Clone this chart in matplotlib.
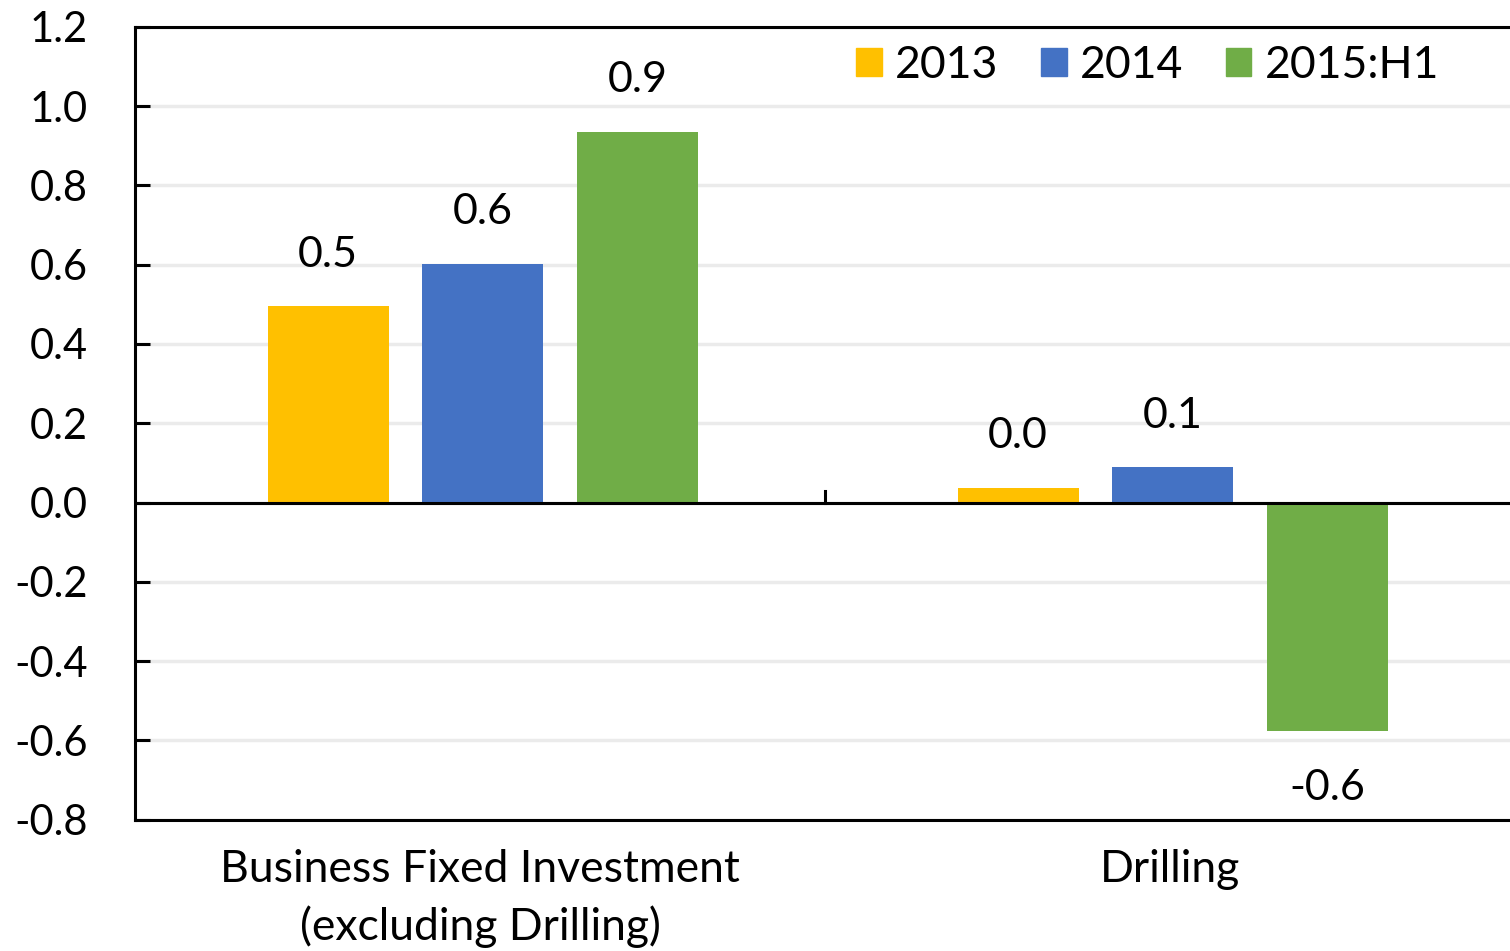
import matplotlib
matplotlib.use('Agg')
import numpy as np
import matplotlib.pyplot as plt
from matplotlib.patches import Patch

plt.rcParams['font.family'] = ['Lato', 'DejaVu Sans']

# data
categories = ['Business Fixed Investment\n(excluding Drilling)', 'Drilling']
series = ['2013', '2014', '2015:H1']
vals_2013 = [0.495, 0.038]
vals_2014 = [0.603, 0.09]
vals_2015 = [0.935, -0.575]
labels_2013 = ['0.5', '0.0']
labels_2014 = ['0.6', '0.1']
labels_2015 = ['0.9', '-0.6']
yticks = [-0.8, -0.6, -0.4, -0.2, 0.0, 0.2, 0.4, 0.6, 0.8, 1.0, 1.2]
ytick_labels = ['-0.8', '-0.6', '-0.4', '-0.2', '0.0', '0.2', '0.4', '0.6', '0.8', '1.0', '1.2']

colors = ['#FFC000', '#4472C4', '#70AD47']
offsets = [-0.22, 0.004, 0.228]
width = 0.175

fig = plt.figure(figsize=(15.1, 9.51), dpi=100)
ax = fig.add_axes([0.0894, 0.138, 0.9139, 0.8338])

x = np.arange(len(categories))
all_vals = [vals_2013, vals_2014, vals_2015]
all_labels = [labels_2013, labels_2014, labels_2015]
for vals, labs, off, c, name in zip(all_vals, all_labels, offsets, colors, series):
    bars = ax.bar(x + off, vals, width, color=c, label=name, zorder=3)
    for b, v, lab in zip(bars, vals, labs):
        if v >= 0:
            ax.annotate(lab, (b.get_x() + b.get_width() / 2, v), xytext=(0, 37),
                        textcoords='offset points', ha='center', va='center', fontsize=31)
        else:
            ax.annotate(lab, (b.get_x() + b.get_width() / 2, v), xytext=(0, -41),
                        textcoords='offset points', ha='center', va='center', fontsize=31)

# zero line with the category divider tick
ax.axhline(0, color='black', lw=2.2, zorder=4)
ax.plot([0.5, 0.5], [0, 0.03], color='black', lw=2.2, zorder=4)

ax.set_xlim(-0.5, 1.5)
ax.set_ylim(-0.8, 1.2)
ax.set_yticks(yticks)
ax.set_yticklabels(ytick_labels)
ax.yaxis.grid(True, color='#ebebeb', lw=2.5, zorder=0)
ax.tick_params(axis='y', direction='in', length=11, width=2.2, pad=34, labelsize=30)
ax.set_xticks(x)
ax.set_xticklabels(categories, fontsize=32, linespacing=1.45)
ax.tick_params(axis='x', length=0, pad=21)

for s in ['left', 'top', 'bottom']:
    ax.spines[s].set_linewidth(2.2)
ax.spines['right'].set_visible(False)

handles = [Patch(color=c) for c in colors]
ax.legend(handles, series, loc='upper right', ncol=3, frameon=False, fontsize=32,
          handlelength=0.58, handleheight=0.58, handletextpad=0.3, columnspacing=0.95,
          bbox_to_anchor=(0.974, 1.028))

fig.savefig('out.png', dpi=100)
